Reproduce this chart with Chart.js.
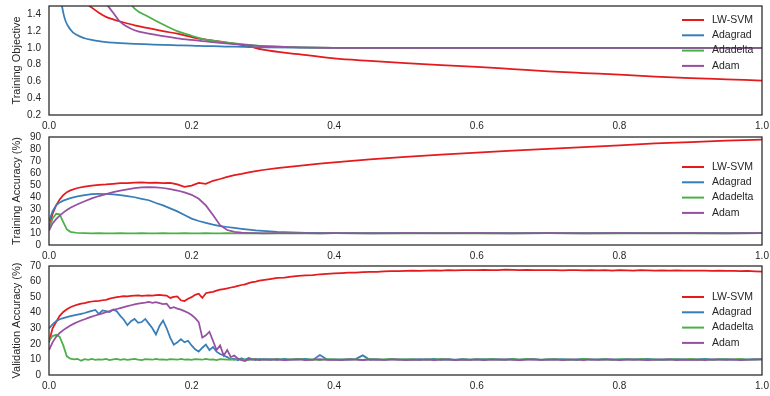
<!DOCTYPE html>
<html>
<head>
<meta charset="utf-8">
<script src="https://cdn.jsdelivr.net/npm/chart.js@4/dist/chart.umd.min.js"></script>
<style>
  body { margin: 0; background: #fff; }
  canvas { position: absolute; left: 0; }
</style>
</head>
<body>
<canvas id="chartObj" width="770" height="131" style="top:0"></canvas>
<canvas id="chartTrain" width="770" height="141" style="top:121px"></canvas>
<canvas id="chartVal" width="770" height="144" style="top:252px"></canvas>
<script>
const methods = ['LW-SVM', 'Adagrad', 'Adadelta', 'Adam'];
const lineColors = ['#e41a1c', '#377eb8', '#4daf4a', '#984ea3'];

const xTicks = [0, 0.2, 0.4, 0.6, 0.8, 1.0];
const objTicks = [0.2, 0.4, 0.6, 0.8, 1.0, 1.2, 1.4];
const trainTicks = [0, 10, 20, 30, 40, 50, 60, 70, 80, 90];
const valTicks = [0, 10, 20, 30, 40, 50, 60, 70];

// training objective
const objX = [0, 0.01, 0.02, 0.03, 0.04, 0.05, 0.06, 0.07, 0.08, 0.09, 0.10, 0.12, 0.14, 0.16, 0.18, 0.20, 0.21, 0.22, 0.24, 0.26,
  0.28, 0.30, 0.35, 0.40, 0.45, 0.50, 0.55, 0.60, 0.65, 0.70, 0.75, 0.80, 0.85, 0.90, 0.95, 1.00];
const objLwsvm = [3.0, 2.4, 2.0, 1.8, 1.65, 1.55, 1.48, 1.42, 1.37, 1.34, 1.315, 1.27, 1.235, 1.2, 1.17, 1.13, 1.112, 1.10, 1.075, 1.05,
  1.02, 0.98, 0.925, 0.875, 0.845, 0.818, 0.795, 0.775, 0.748, 0.72, 0.70, 0.682, 0.658, 0.64, 0.625, 0.61];
const objAdagrad = [4.0, 2.1, 1.42, 1.22, 1.15, 1.115, 1.095, 1.08, 1.07, 1.063, 1.057, 1.048, 1.042, 1.036, 1.031, 1.026, 1.024, 1.022, 1.018, 1.014,
  1.011, 1.008, 1.004, 1.002, 1.001, 1.0, 1.0, 1.0, 1.0, 1.0, 1.0, 1.0, 1.0, 1.0, 1.0, 1.0];
const objAdadelta = [6.0, 4.8, 4.0, 3.4, 3.0, 2.6, 2.3, 2.1, 1.95, 1.82, 1.7, 1.47, 1.37, 1.28, 1.2, 1.145, 1.12, 1.10, 1.075, 1.053,
  1.035, 1.022, 1.008, 1.002, 1.001, 1.0, 1.0, 1.0, 1.0, 1.0, 1.0, 1.0, 1.0, 1.0, 1.0, 1.0];
const objAdam = [5.0, 4.0, 3.2, 2.6, 2.2, 1.95, 1.78, 1.64, 1.53, 1.42, 1.31, 1.21, 1.17, 1.14, 1.115, 1.095, 1.086, 1.078, 1.06, 1.045,
  1.033, 1.022, 1.008, 1.002, 1.001, 1.0, 1.0, 1.0, 1.0, 1.0, 1.0, 1.0, 1.0, 1.0, 1.0, 1.0];

// training accuracy (%)
const trainX = [0, 0.005, 0.01, 0.015, 0.02, 0.025, 0.03,
  0.04, 0.05, 0.06, 0.07, 0.08, 0.09, 0.10, 0.11, 0.12, 0.13,
  0.14, 0.15, 0.16, 0.17, 0.18, 0.19, 0.20, 0.21, 0.22, 0.23,
  0.24, 0.25, 0.26, 0.27, 0.28, 0.29, 0.30,
  0.32, 0.34, 0.36, 0.38, 0.40,
  0.45, 0.50, 0.55, 0.60, 0.65, 0.70, 0.75, 0.80, 0.85, 0.90, 0.95, 1.00];
const trainLwsvm = [14, 26, 33, 38, 41.5, 44, 45.5,
  47.5, 48.6, 49.4, 50.2, 50.5, 51, 51.5, 51.6, 52, 52.2,
  51.8, 52, 51.6, 51.8, 50.5, 48.5, 49.5, 51.8, 51, 53.5,
  55, 56.8, 58.3, 59.3, 60.5, 61.5, 62.5,
  64, 65.3, 66.6, 67.8, 68.8,
  71.3, 73.4, 75.3, 77, 78.6, 80.1, 81.6, 83, 84.6, 85.8, 86.9, 87.8];
const trainAdagrad = [20, 28, 33, 35.5, 37, 38, 39,
  40.5, 41.6, 42.3, 42.7, 42.5, 42.2, 41.6, 40.8, 39.8, 38.5,
  37.3, 35, 33, 30.5, 28, 25, 22, 20, 18.5, 17,
  15.8, 15, 14.2, 13.5, 12.8, 12.2, 11.8,
  11, 10.5, 10.2, 10.1, 10,
  10, 9.9, 10, 9.9, 10, 10, 9.9, 10, 10, 9.9, 10, 10];
const trainAdadelta = [14, 22, 26, 25.5, 19, 13, 11,
  10, 9.8, 9.7, 9.8, 9.7, 9.7, 9.8, 9.7, 9.7, 9.8,
  9.7, 9.7, 9.8, 9.7, 9.7, 9.8, 9.7, 9.7, 9.8, 9.7,
  9.7, 9.8, 9.7, 9.7, 9.8, 9.7, 9.7,
  9.7, 9.8, 9.7, 9.7, 9.8,
  9.7, 9.7, 9.8, 9.7, 9.7, 9.8, 9.7, 9.7, 9.8, 9.7, 9.7, 9.8];
const trainAdam = [12, 18, 21.5, 24.5, 27, 29.2, 31,
  34, 36.5, 38.8, 40.8, 42.4, 44, 45.3, 46.4, 47.3, 48,
  48.3, 48, 47.5, 46.6, 45.4, 43.8, 41.8, 38.5, 33, 25,
  16.5, 12.5, 11, 10.3, 10, 9.8, 9.7,
  9.8, 9.7, 9.8, 9.7, 9.8,
  9.7, 9.8, 9.7, 9.8, 9.7, 9.8, 9.7, 9.8, 9.7, 9.8, 9.7, 9.8];

// validation accuracy (%)
const valX = [0, 0.005, 0.01, 0.015, 0.02, 0.025, 0.03, 0.035, 0.04, 0.045,
  0.05, 0.055, 0.06, 0.065, 0.07, 0.075, 0.08, 0.085, 0.09, 0.095,
  0.10, 0.105, 0.11, 0.115, 0.12, 0.125, 0.13, 0.135, 0.14, 0.145,
  0.15, 0.155, 0.16, 0.165, 0.17, 0.175, 0.18, 0.185, 0.19, 0.195,
  0.20, 0.205, 0.21, 0.215, 0.22, 0.225, 0.23, 0.235, 0.24, 0.245,
  0.25, 0.255, 0.26, 0.265, 0.27, 0.275, 0.28, 0.285, 0.29, 0.295,
  0.30,
  0.31, 0.32, 0.33, 0.34, 0.35, 0.36, 0.37, 0.38, 0.39, 0.40,
  0.41, 0.42, 0.43, 0.44, 0.45, 0.46, 0.47, 0.48, 0.49, 0.50,
  0.51, 0.52, 0.53, 0.54, 0.55, 0.56, 0.57, 0.58, 0.59, 0.60,
  0.61, 0.62, 0.63, 0.64, 0.65, 0.66, 0.67, 0.68, 0.69, 0.70,
  0.71, 0.72, 0.73, 0.74, 0.75, 0.76, 0.77, 0.78, 0.79, 0.80,
  0.81, 0.82, 0.83, 0.84, 0.85, 0.86, 0.87, 0.88, 0.89, 0.90,
  0.91, 0.92, 0.93, 0.94, 0.95, 0.96, 0.97, 0.98, 0.99, 1.00];
const valLwsvm = [21, 30, 34, 38, 40.5, 42.2, 43.5, 44.5, 45.2, 45.8,
  46.2, 46.8, 47.2, 47.4, 47.6, 48, 48.3, 49, 49.6, 50,
  50.3, 50.7, 50.5, 50.8, 51, 51.2, 50.8, 51, 51.2, 51,
  51.3, 51.4, 51.2, 51, 49.5, 50.2, 50.5, 48, 47.5, 49,
  50, 51.5, 52.2, 49.5, 52.5, 53, 53.4, 54.2, 54.8, 55.2,
  55.6, 56.2, 56.6, 57.2, 57.8, 58.2, 59, 59.6, 60, 60.6,
  61,
  61.6, 62.3, 62.6, 63.2, 63.6, 64, 64.2, 64.7, 65, 65.2,
  65.5, 65.7, 65.8, 66, 66.3, 66.3, 66.5, 66.7, 66.7, 66.9,
  67, 66.9, 67.1, 67.2, 67.1, 67.3, 67.2, 67.4, 67.3, 67.4,
  67.5, 67.3, 67.4, 67.6, 67.5, 67.4, 67.5, 67.3, 67.4, 67.3,
  67.4, 67.2, 67.3, 67.4, 67.2, 67.3, 67.2, 67.3, 67.1, 67.3,
  67.2, 67.1, 67.3, 67.2, 67, 67.2, 67.1, 67.2, 67, 67.1,
  67, 67.1, 66.9, 67, 66.8, 66.9, 66.7, 66.8, 66.6, 66.4];
const valAdagrad = [30, 32.5, 34.5, 35.8, 36.5, 37.2, 37.8, 38.3, 38.8, 39.3,
  39.8, 40.5, 41.2, 41.8, 39.2, 41.5, 41, 40.4, 42, 41,
  38, 35.5, 32, 34.5, 36, 33.5, 34, 36, 33, 30,
  26, 31.5, 35, 30, 24, 19.5, 21, 23, 21, 22,
  19, 16.5, 15, 17.5, 19.5, 16, 18, 15, 13.5, 12.5,
  11.5, 10, 10.5, 9.5, 10.8, 9.8, 11, 10.2, 9.6, 10.4,
  10,
  10.2, 9.7, 10.3, 9.8, 10.1, 10.4, 9.7, 12.8, 10, 9.8,
  10.1, 9.9, 10.2, 12.6, 9.8, 10.1, 9.7, 10.2, 9.9, 10.1,
  9.8, 10.2, 9.9, 10.3, 9.7, 10.1, 9.8, 10.2, 9.9, 10,
  10.2, 9.8, 10.1, 9.9, 10.3, 9.8, 10, 10.2, 9.7, 10.1,
  9.9, 10.2, 9.8, 10.1, 10.3, 9.8, 10, 10.2, 9.9, 10.1,
  10.2, 9.8, 10, 10.3, 9.9, 10.1, 9.8, 10.2, 10, 9.9,
  10.1, 10.3, 9.8, 10, 10.2, 9.9, 10.1, 9.8, 10.2, 10];
const valAdadelta = [22, 25, 25.8, 24.5, 19, 12, 10.5, 10, 10.4, 9.2,
  10.2, 9.8, 10.3, 9.7, 10.1, 9.9, 10.4, 9.6, 10, 10.3,
  9.8, 10.2, 9.7, 10.1, 10.4, 9.9, 9.6, 10.2, 10, 9.8,
  10.3, 9.9, 10.1, 9.7, 10.2, 10, 9.8, 10.4, 9.9, 10.1,
  9.7, 10.2, 10, 9.8, 10.3, 9.9, 10.1, 9.6, 10.2, 10,
  9.8, 10.1, 9.7, 10.3, 9.9, 10, 9.6, 10.2, 10.4, 9.8,
  10.1,
  9.9, 10.3, 9.7, 10.1, 10.4, 9.8, 10, 9.6, 10.2, 10.1,
  9.8, 10.2, 10, 9.7, 10.3, 9.9, 10.1, 10.4, 9.8, 10,
  10.2, 9.7, 10.1, 9.9, 10.3, 10, 9.6, 10.2, 9.9, 10.1,
  9.8, 10.3, 10, 9.7, 10.2, 9.9, 10.4, 10, 9.8, 10.1,
  10.2, 9.8, 10.1, 9.6, 10.3, 10, 9.9, 10.2, 9.7, 10.1,
  10, 9.8, 10.3, 9.9, 10.1, 9.7, 10.2, 10, 9.8, 10.3,
  9.9, 10.1, 9.7, 10.2, 10, 9.8, 10.3, 9.9, 10.1, 10.2];
const valAdam = [16, 21, 24.5, 27, 28.8, 30.4, 31.8, 33, 34, 35,
  35.8, 36.7, 37.5, 38.2, 38.9, 39.6, 40.3, 41, 41.8, 42.4,
  43, 43.6, 44.2, 44.8, 45.3, 45.8, 46.2, 46.5, 46.9, 46.4,
  46.8, 46.2, 45.5, 45.8, 42.8, 43.5, 42.6, 42, 41, 40,
  38.5, 36.5, 34, 24, 25.5, 27.8, 22, 16, 19, 12.5,
  16, 11.5, 12.5, 10.5, 9.5, 9, 10.5, 9.8, 10.2, 9.6,
  10,
  9.7, 10, 9.5, 9.9, 10.1, 9.6, 9.8, 10.2, 9.7, 9.9,
  9.6, 10, 9.8, 9.5, 9.9, 10.1, 9.7, 9.8, 10, 9.6,
  9.9, 9.7, 10.1, 9.6, 9.8, 10, 9.5, 9.9, 9.7, 10,
  9.6, 9.9, 9.8, 10.1, 9.7, 9.5, 9.9, 10, 9.7, 9.8,
  10, 9.6, 9.8, 9.9, 9.5, 10.1, 9.7, 9.8, 10, 9.6,
  9.8, 10, 9.7, 9.5, 9.9, 9.8, 10.1, 9.6, 9.9, 9.7,
  9.9, 9.6, 10, 9.8, 9.7, 10.1, 9.6, 9.9, 9.8, 10];

const ink = '#262626';
Chart.defaults.font.family = '"Liberation Sans", Arial, sans-serif';
Chart.defaults.color = ink;

// box around the plot area and the legend in its upper right
const keyBox = {
  id: 'keyBox',
  afterDatasetsDraw(chart, args, opts) {
    const {ctx, chartArea: a} = chart;
    ctx.save();
    ctx.strokeStyle = ink;
    ctx.lineWidth = 1.25;
    ctx.strokeRect(a.left, a.top, a.right - a.left, a.bottom - a.top);
    ctx.font = '10.5px "Liberation Sans", Arial, sans-serif';
    ctx.textBaseline = 'middle';
    methods.forEach((name, i) => {
      const y = a.top + opts.top + i * 15.3;
      ctx.strokeStyle = lineColors[i];
      ctx.lineWidth = 2;
      ctx.beginPath();
      ctx.moveTo(682, y);
      ctx.lineTo(704, y);
      ctx.stroke();
      ctx.fillStyle = ink;
      ctx.fillText(name, 712, y);
    });
    ctx.restore();
  }
};

function makeChart(id, xs, series, cfg) {
  const datasets = series.map((ys, i) => ({
    label: methods[i],
    data: xs.map((x, j) => ({x: x, y: ys[j]})),
    borderColor: lineColors[i],
    borderWidth: 1.75,
    pointRadius: 0,
    fill: false,
    order: series.length - i,
    cubicInterpolationMode: cfg.smooth ? 'monotone' : 'default',
    tension: 0
  }));
  return new Chart(document.getElementById(id), {
    type: 'line',
    data: {datasets: datasets},
    plugins: [keyBox],
    options: {
      responsive: false,
      animation: false,
      events: [],
      layout: {padding: {top: cfg.padTop, right: 8, left: 0, bottom: 0}},
      plugins: {legend: {display: false}, tooltip: {enabled: false}, keyBox: {top: cfg.keyTop}},
      scales: {
        x: {
          type: 'linear', min: 0, max: 1,
          afterBuildTicks: s => { s.ticks = xTicks.map(v => ({value: v})); },
          afterFit: s => { s.height = cfg.xHeight; s.paddingLeft = 0; s.paddingRight = 0; },
          grid: {display: false, drawTicks: false},
          border: {display: false},
          ticks: {font: {size: 10}, padding: 5, maxRotation: 0, autoSkip: false, callback: v => v.toFixed(1)}
        },
        y: {
          type: 'linear', min: cfg.min, max: cfg.max,
          afterBuildTicks: s => { s.ticks = cfg.ticks.map(v => ({value: v})); },
          afterFit: s => { s.width = 49; s.paddingTop = 0; s.paddingBottom = 0; },
          grid: {display: false, drawTicks: false},
          border: {display: false},
          ticks: {font: {size: 10}, padding: 8, autoSkip: false, callback: v => v.toFixed(cfg.digits)},
          title: {display: true, text: cfg.title, font: {size: 11}, padding: {top: 10, bottom: 0}}
        }
      }
    }
  });
}

makeChart('chartObj', objX, [objLwsvm, objAdagrad, objAdadelta, objAdam],
  {min: 0.2, max: 1.5, ticks: objTicks, digits: 1, title: 'Training Objective',
   padTop: 6, xHeight: 16, keyTop: 14, smooth: true});
makeChart('chartTrain', trainX, [trainLwsvm, trainAdagrad, trainAdadelta, trainAdam],
  {min: 0, max: 90, ticks: trainTicks, digits: 0, title: 'Training Accuracy (%)',
   padTop: 16, xHeight: 17, keyTop: 30, smooth: false});
makeChart('chartVal', valX, [valLwsvm, valAdagrad, valAdadelta, valAdam],
  {min: 0, max: 70, ticks: valTicks, digits: 0, title: 'Validation Accuracy (%)',
   padTop: 14, xHeight: 21, keyTop: 31, smooth: false});
</script>
</body>
</html>
